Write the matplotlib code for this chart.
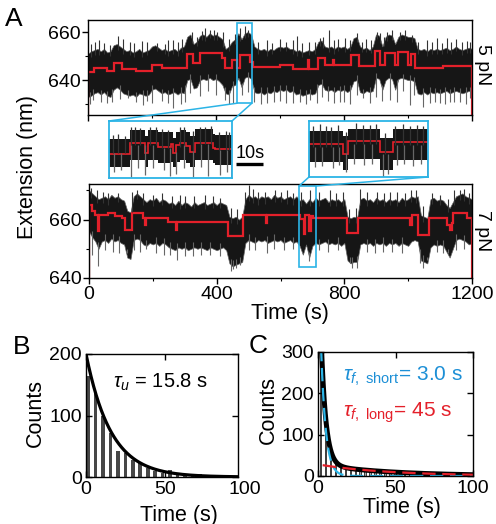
import numpy as np
import matplotlib.pyplot as plt
from matplotlib.patches import Rectangle, ConnectionPatch
from matplotlib.ticker import MultipleLocator

plt.rcParams["font.family"] = ["Liberation Sans", "DejaVu Sans"]
plt.rcParams["mathtext.fontset"] = "custom"
plt.rcParams["mathtext.rm"] = "Liberation Sans"
plt.rcParams["mathtext.it"] = "Liberation Sans:italic"
plt.rcParams["axes.linewidth"] = 1.0

RED = "#e4202a"
CYAN = "#2bb4e6"
BLUE = "#1c8fd6"
BAND = "#161616"

# -------------------------------------------------
# panel A: raw traces (envelope every 10 s) + smoothed steps
sample_t = np.arange(0, 1201, 10)

# 5 pN trace
top_upper = [
    651, 652, 652.5, 653, 652, 653, 651.5, 652, 654.5, 655, 654, 653,
    652, 652.5, 651.5, 652, 653, 651.5, 652, 652.5, 654, 654.5, 653.5, 652.5,
    653, 652, 652.5, 653, 652, 653.5, 654, 658, 659, 655, 656, 658.5,
    659, 658, 659.5, 658.5, 659, 658, 657, 653, 654, 656, 657, 659.5,
    657, 659.5, 660, 659, 654, 653, 652.5, 653, 652, 653, 652.5, 653.5,
    654, 653.5, 654, 653, 653, 652, 652.5, 651.5, 652, 652.5, 652, 653,
    656, 656.5, 654, 653.5, 654, 653, 654, 653.5, 654, 653, 654, 657.5,
    658, 654, 653, 653.5, 652.5, 654, 659, 658.5, 654, 658, 659, 658.5,
    655, 658, 659, 658.5, 658, 658, 657.5, 653, 652.5, 653, 652, 653,
    652.5, 653, 652.5, 653, 653.5, 652.5, 653, 654, 653, 652.5, 653, 653.5,
    653]
top_lower = [
    633, 633.5, 634.5, 635, 634, 635, 633.5, 633, 636, 637, 636, 634.5,
    634, 633.5, 634, 633, 634.5, 634, 633.5, 634, 636, 636.5, 635.5, 634.5,
    635, 634, 634.5, 635, 634, 635, 634.5, 640, 640.5, 636.5, 637, 640,
    640.5, 640, 641, 640, 640.5, 639.5, 638, 634.5, 634, 637.5, 638, 641,
    637, 641, 641.5, 640.5, 635, 634.5, 635, 634, 635, 634.5, 635.5, 635,
    636, 635.5, 636, 635, 635.5, 634, 634.5, 633.5, 634, 634.5, 634, 634.5,
    638, 638.5, 636, 635.5, 636, 635, 636, 635.5, 636, 635, 636, 639.5,
    640, 635, 634.5, 635.5, 635, 635.5, 641, 640.5, 636, 640, 641, 640.5,
    636, 640.5, 641, 640.5, 640, 640, 639.5, 634.5, 634, 635, 634, 635,
    634.5, 635, 634.5, 635, 635.5, 634.5, 635, 635.5, 635, 634.5, 635, 635.5,
    635]
top_edges = [0, 20, 60, 80, 105, 150, 200, 230, 308, 329, 350, 418, 428, 449,
             466, 474, 505, 517, 600, 642, 686, 690, 718, 740, 765, 769, 822,
             846, 897, 912, 928, 959, 970, 1001, 1008, 1022, 1110, 1200]
top_red = [643.5, 645, 643.8, 647, 644.8, 644, 646.4, 645, 651, 647, 651.2,
           649, 645, 648.4, 645, 650.5, 647.5, 645.5, 646.4, 644.7, 648.5,
           644.7, 649.1, 646.4, 648.5, 646.4, 650.5, 645.7, 652, 646.4, 651.2,
           646.4, 651.5, 646.4, 651, 645.2, 645.8]
top_up_t = [8, 22, 35, 50, 70, 95, 110, 130, 145, 168, 185, 215, 240, 250, 265,
            280, 295, 324, 340, 355, 366, 381, 395, 402, 423, 440, 460, 475,
            490, 501, 530, 560, 575, 600, 620, 640, 652, 670, 690, 710, 725,
            735, 754, 770, 780, 803, 820, 840, 855, 870, 885, 902, 912, 925,
            933, 950, 975, 990, 1011, 1030, 1060, 1075, 1090, 1105, 1121, 1135,
            1150, 1170, 1183, 1195]
top_up_v = [655, 656, 656.5, 655.5, 654.5, 658.2, 657, 656, 655.5, 656.1, 656,
            655.4, 655, 656.5, 656.5, 656, 657, 660.2, 658, 660.5, 661.6, 660.9,
            661, 660.2, 660.2, 657, 659, 661.6, 662.3, 660.9, 656, 656.5, 655.5,
            657, 656, 656.5, 658.2, 655.5, 656, 656, 657.5, 658, 660.9, 656.5,
            657, 657.5, 656.5, 659.6, 656, 657, 656.5, 660.2, 659.6, 658, 660,
            661, 660.2, 661, 658.9, 656, 656.5, 656, 657.5, 655.5, 657.5, 656,
            657, 656, 656.1, 656]
top_dn_t = [5, 17, 40, 60, 74, 100, 126, 150, 173, 185, 200, 230, 250, 267,
            290, 303, 320, 350, 375, 400, 428, 440, 454, 480, 500, 520, 540,
            560, 580, 600, 620, 640, 662, 680, 694, 715, 730, 750, 770, 787,
            800, 820, 840, 860, 880, 900, 920, 944, 965, 985, 1006, 1020, 1048,
            1070, 1085, 1100, 1115, 1130, 1145, 1163, 1180, 1195]
top_dn_v = [630, 631.8, 631, 630.5, 631.1, 632, 632.5, 631, 629.7, 631.5, 630.5,
            631.5, 630.5, 628.3, 630, 631.1, 634.5, 633.2, 635.5, 634, 631.8,
            630, 630.4, 634, 635, 631, 630, 630.5, 631, 631.5, 630.5, 630.5,
            631.1, 630, 631.8, 630.4, 633, 631.5, 630.5, 631.1, 631, 630, 634,
            632.5, 630.5, 633, 631.5, 631.8, 631, 635.5, 629.7, 634, 629, 630.5,
            631, 630.4, 630, 631, 631, 631.1, 630, 632.5]

# 7 pN trace
bot_upper = [
    670, 669, 668, 667, 667.5, 668, 667, 668.5, 667.5, 668, 667, 666.5,
    663, 662.5, 668, 669, 668, 667, 666, 667, 666.5, 667.5, 666, 667,
    666.5, 665.5, 666, 665, 666.5, 665, 666, 665.5, 664.5, 666, 665, 665.5,
    666, 665, 665.5, 666, 665, 666, 665.5, 665, 661, 660.5, 661, 660,
    661, 667, 668.5, 667.5, 668, 667, 668, 667.5, 668, 667, 668.5, 667.5,
    668, 667, 667.5, 668, 667, 668, 666.5, 667, 665.5, 667, 666, 667.5,
    666.5, 667, 667.5, 666, 667, 666.5, 667, 666, 667, 661, 660.5, 661,
    660.5, 667, 667.5, 666.5, 667, 666, 667.5, 666.5, 667, 666, 667, 666.5,
    667, 666, 667.5, 666.5, 667, 668, 667.5, 668, 661.5, 661, 660.5, 667,
    667.5, 666.5, 667, 666.5, 665, 664, 666, 668, 668.5, 669, 668, 667.5,
    667]
bot_lower = [
    656, 654, 652.5, 650, 652.5, 653, 652, 653.5, 652.5, 653, 652, 651.5,
    647, 646.5, 653, 653.5, 653, 651.5, 651, 652, 651.5, 652, 651, 652,
    651.5, 650.5, 650, 649.5, 650.5, 650, 650.5, 649.5, 650, 650.5, 650, 650.5,
    650, 649.5, 650.5, 650, 649.5, 650, 650.5, 649.5, 645, 644, 644.5, 645,
    645.5, 652, 653, 652.5, 652, 653, 652.5, 653, 652, 652.5, 653, 652.5,
    653, 652, 652.5, 653, 652, 652.5, 651, 648, 651.5, 647, 651, 652,
    651.5, 652, 652.5, 651.5, 652, 651.5, 652, 651, 652, 646, 645, 645.5,
    645.5, 651.5, 652, 651.5, 652, 651, 652, 651.5, 652, 651, 652, 651.5,
    652, 651, 652, 651.5, 651, 652.5, 653, 652.5, 646, 645.5, 645, 650.5,
    651.5, 651, 651.5, 651, 649, 647, 650, 653, 653.5, 653, 652.5, 651.5,
    652]
bot_edges = [0, 8, 19, 28, 32, 60, 80, 102, 113, 134, 170, 174, 178, 249, 272,
             276, 322, 437, 484, 555, 559, 661, 673, 676, 690, 695, 703, 808,
             844, 1006, 1011, 1032, 1064, 1121, 1130, 1137, 1142, 1184, 1200]
bot_red = [665, 663, 661.6, 656, 661.6, 662.2, 661.4, 660.5, 656.5, 662.2,
           660.5, 658, 660.5, 659.2, 656.5, 659.2, 659.3, 654.3, 661.6, 659,
           661.6, 660.3, 655, 661.6, 656, 661.3, 660.6, 655.4, 660.5, 658,
           661.6, 654.8, 660.5, 658, 656.5, 659, 662.2, 660.5]
bot_up_t = [5, 24, 45, 60, 90, 134, 150, 170, 200, 230, 260, 285, 300, 330,
            365, 390, 410, 445, 465, 490, 500, 515, 531, 550, 583, 600, 620,
            640, 665, 693, 720, 755, 775, 795, 815, 835, 850, 870, 902, 925,
            943, 965, 990, 1010, 1025, 1045, 1075, 1100, 1125, 1145, 1163,
            1175, 1190]
bot_up_v = [671, 670, 669.5, 669, 669, 669.5, 670, 669, 668.5, 669, 668, 668.5,
            668, 668, 668.5, 668, 667.5, 664, 663.5, 669.5, 671.8, 670.5,
            669.5, 669.5, 670, 669.5, 670, 669, 669.5, 670, 669.5, 670, 669,
            669.5, 663.5, 664, 670.6, 669.5, 669.5, 669, 669.5, 669.5, 669,
            670, 670, 664.5, 669, 668.5, 667, 670, 670, 670.5, 669]
bot_dn_t = [10, 29, 50, 75, 95, 118, 140, 160, 180, 210, 235, 255, 275, 300,
            325, 350, 380, 410, 445, 452, 462, 473, 500, 520, 557, 580, 610,
            640, 690, 720, 750, 780, 818, 825, 839, 870, 895, 920, 950, 980,
            1037, 1045, 1058, 1090, 1110, 1126, 1150, 1175]
bot_dn_v = [648, 644, 649.5, 649, 648.5, 648.5, 649.5, 649, 650, 648.5, 648,
            648, 646, 647.5, 647.5, 648, 648, 647.5, 642.5, 643, 643.5, 644.5,
            649.5, 649.5, 648.5, 650, 649.5, 650, 645.8, 649.5, 649, 649.5, 645,
            643.5, 643.5, 649, 648.5, 649, 649, 648.5, 645, 643.5, 646, 649,
            648.5, 648.5, 649.5, 650]

# zoom windows (s, nm)
win1_t = [466, 512]
win1_y = [630.4, 663.7]
win2_t = [658, 711]
win2_y = [643.7, 671.5]

# left inset (5 pN, 466-512 s)
in1_edges = [466, 473.7, 479.3, 480.6, 484.3, 489.3, 490, 491.2, 492.4, 494.9,
             496.2, 498, 504.9, 505.5, 512]
in1_red = [644.5, 650.7, 645, 650.7, 648.5, 650, 645, 649.5, 650.7, 649, 645.5,
           651, 648, 647.5]
in1_upper = [653, 658.5, 655, 658.5, 657, 657, 654, 657, 658.5, 657, 655, 659,
             656, 655.5]
in1_lower = [637, 641, 637, 641, 639, 640, 637, 640, 641, 639, 637, 641, 639,
             638]
in1_up_t = [467.5, 469.5, 472, 474.4, 475.6, 477.5, 481.5, 483.7, 486, 488,
            492.4, 494, 497.5, 499.9, 502, 504, 507, 509.9, 511]
in1_up_v = [655.5, 656, 655, 660, 660.4, 659.5, 660, 660.4, 659, 658.5, 660.4,
            660, 658, 660.4, 660, 660.5, 657.5, 658, 657]
in1_dn_t = [468, 470.5, 474.4, 477, 479.3, 482.5, 486.5, 488.7, 491, 494,
            497.4, 500.5, 503, 507.4, 510]
in1_dn_v = [634, 635, 631.2, 636, 632, 636.5, 635, 631.5, 633, 636, 631.2, 637,
            631.5, 632, 634]

# right inset (7 pN, 658-711 s)
in2_edges = [658, 673.1, 675.4, 689.5, 695.4, 711]
in2_red = [660.3, 655, 661.6, 656, 661.3]
in2_upper = [666.5, 664, 667.5, 663, 667.5]
in2_lower = [651, 647, 652.5, 647, 652]
in2_up_t = [660, 662.8, 665.5, 668, 671, 674.5, 679, 682, 685, 688, 692,
            696.5, 699.9, 703, 706, 708.8]
in2_up_v = [669, 670, 669, 668.5, 669.5, 666, 670.5, 669.5, 669.5, 670, 665.5,
            669, 670, 669, 669.5, 669]
in2_dn_t = [660.5, 664, 668.7, 671.5, 674.6, 678, 682.5, 686, 691, 693.2, 697,
            700.5, 704.3, 708]
in2_dn_v = [648.5, 649, 648, 649.5, 646.3, 650, 649.5, 650, 643.5, 645, 649.5,
            650, 649, 650]

# -------------------------------------------------
# panel B: unfolded dwell times
b_time = [1.4, 6.1, 10.8, 15.5, 20.2, 24.9, 29.6, 34.3, 39.0, 43.7, 48.4, 53.1,
          57.8, 62.5, 67.2, 71.9, 76.6, 81.3, 86.0]
b_counts = [165, 138, 100, 72, 43, 39, 27, 22, 15, 9, 7, 11, 4, 3, 2, 5, 3, 2, 1]
b_amp, tau_u = 200, 15.8

# panel C: folded dwell times
c_time = [1.6, 4.8, 8.0, 11.2, 14.4, 17.6, 20.8, 24.0, 27.2, 30.4, 33.6, 36.8,
          40.0, 43.2, 46.4, 49.6, 52.8, 56.0, 59.2, 62.4, 65.6, 68.8, 72.0,
          75.2, 78.4, 81.6, 84.8, 88.0]
c_counts = [300, 150, 62, 35, 24, 21, 19, 17, 15, 14, 13, 12, 11, 10, 9, 9, 8,
            7, 7, 6, 6, 5, 5, 4, 4, 3, 3, 3]
c_amp_short, tau_short = 600, 3.0
c_amp_long, tau_long = 28, 45


# -------------------------------------------------
W, H = 496, 524


def px_box(x0, y0, x1, y1):
    return [x0 / W, 1 - y1 / H, (x1 - x0) / W, (y1 - y0) / H]


def px(x, y):
    return x / W, 1 - y / H


def draw_trace(ax, upper, lower, edges, red, up_t, up_v, dn_t, dn_v):
    ax.fill_between(sample_t, lower, upper, color=BAND, lw=0.5, edgecolor="0.4")
    ax.vlines(up_t, np.interp(up_t, sample_t, upper) - 2, up_v, color="0.2", lw=0.8)
    ax.vlines(dn_t, dn_v, np.interp(dn_t, sample_t, lower) + 2, color="0.4", lw=0.8)
    ax.stairs(red, edges, color=RED, lw=1.6)


def draw_inset(ax, edges, red, upper, lower, up_t, up_v, dn_t, dn_v, xr, yr):
    ax.stairs(upper, edges, baseline=lower, fill=True, color=BAND)
    mid = [(a + b) / 2 for a, b in zip(upper, lower)]
    base = np.array(mid)[np.searchsorted(edges, up_t) - 1]
    ax.vlines(up_t, base, up_v, color="0.2", lw=0.9)
    base = np.array(mid)[np.searchsorted(edges, dn_t) - 1]
    ax.vlines(dn_t, dn_v, base, color="0.4", lw=0.9)
    ax.stairs(red, edges, color=RED, lw=1.2)
    ax.set_xlim(xr)
    ax.set_ylim(yr)
    ax.set_xticks([])
    ax.set_yticks([])
    for s in ax.spines.values():
        s.set_color(CYAN)
        s.set_linewidth(1.3)


fig = plt.figure(figsize=(W / 100, H / 100), dpi=100)

ax_top = fig.add_axes(px_box(88, 20, 472, 115))
ax_bot = fig.add_axes(px_box(89, 184, 472, 278))
ax_in1 = fig.add_axes(px_box(109, 121, 232, 178))
ax_in2 = fig.add_axes(px_box(309, 121, 428, 177))
ax_b = fig.add_axes(px_box(86, 354, 238, 477))
ax_c = fig.add_axes(px_box(318, 352, 473, 476))

draw_trace(ax_top, top_upper, top_lower, top_edges, top_red,
           top_up_t, top_up_v, top_dn_t, top_dn_v)
draw_trace(ax_bot, bot_upper, bot_lower, bot_edges, bot_red,
           bot_up_t, bot_up_v, bot_dn_t, bot_dn_v)

for ax in (ax_top, ax_bot):
    ax.set_xlim(0, 1200)
    ax.set_xticks([0, 400, 800, 1200])
    ax.xaxis.set_minor_locator(MultipleLocator(200))
    ax.yaxis.set_minor_locator(MultipleLocator(10))
    ax.set_yticks([640, 660])
    ax.tick_params(which="major", direction="out", length=4, width=1,
                   labelsize=14, pad=1.5)
    ax.tick_params(which="minor", direction="out", length=2.5, width=0.8)

ax_top.set_ylim(625.5, 665)
ax_top.tick_params(labelbottom=False)
ax_bot.set_ylim(640, 672.2)

ax_top.text(1.028, 0.53, "5 pN", rotation=-90, transform=ax_top.transAxes,
            ha="center", va="center", fontsize=14)
ax_bot.text(1.028, 0.5, "7 pN", rotation=-90, transform=ax_bot.transAxes,
            ha="center", va="center", fontsize=14)

# zoom boxes + connectors
ax_top.add_patch(Rectangle((win1_t[0], win1_y[0]), win1_t[1] - win1_t[0],
                           win1_y[1] - win1_y[0], fill=False, ec=CYAN, lw=1.2))
ax_bot.add_patch(Rectangle((win2_t[0], win2_y[0]), win2_t[1] - win2_t[0],
                           win2_y[1] - win2_y[0], fill=False, ec=CYAN, lw=1.2))

draw_inset(ax_in1, in1_edges, in1_red, in1_upper, in1_lower,
           in1_up_t, in1_up_v, in1_dn_t, in1_dn_v, win1_t, win1_y)
draw_inset(ax_in2, in2_edges, in2_red, in2_upper, in2_lower,
           in2_up_t, in2_up_v, in2_dn_t, in2_dn_v, win2_t, win2_y)

for xa, xb in ((win1_t[0], 0), (win1_t[1], 1)):
    fig.add_artist(ConnectionPatch((xa, win1_y[0]), (xb, 1), coordsA=ax_top.transData,
                                   coordsB=ax_in1.transAxes, color=CYAN, lw=1.1))
for xa, xb in ((win2_t[0], 0), (win2_t[1], 1)):
    fig.add_artist(ConnectionPatch((xa, win2_y[1]), (xb, 0), coordsA=ax_bot.transData,
                                   coordsB=ax_in2.transAxes, color=CYAN, lw=1.1))

# 10 s scale bar next to left inset
ax_in1.plot([513.5, 523.5], [638.6, 638.6], color="k", lw=2.4,
            solid_capstyle="butt", clip_on=False)
ax_in1.text(518.8, 644.5, "10s", ha="center", va="center", fontsize=13,
            clip_on=False)

fig.text(*px(27, 167), "Extension (nm)", rotation=90, ha="center", va="center",
         fontsize=15.5)
fig.text(*px(290, 313), "Time (s)", ha="center", va="center", fontsize=15.5)

# -------------------------------------------------
# B
t_fit = np.linspace(0, 96, 300)
ax_b.bar(b_time, b_counts, width=2.3, color="#474747", lw=0)
ax_b.plot(t_fit, b_amp * np.exp(-t_fit / tau_u), color="k", lw=2.3)
ax_b.set_xlim(0, 96)
ax_b.set_ylim(0, 200)
ax_b.set_xticks([0, 50])
ax_b.set_yticks([0, 100, 200])
ax_b.text(100, -0.03, "100", transform=ax_b.get_xaxis_transform(),
          ha="center", va="top", fontsize=14, clip_on=False)
ax_b.text(0.18, 0.77, r"$\tau_u$ = 15.8 s", transform=ax_b.transAxes,
          fontsize=14.5, ha="left", va="center")
fig.text(*px(35, 413), "Counts", rotation=90, ha="center", va="center",
         fontsize=15.5)
fig.text(*px(179, 515), "Time (s)", ha="center", va="center", fontsize=15.5)

# C
t_fit = np.linspace(0, 100, 600)
t_long = np.linspace(3, 100, 300)
ax_c.bar(c_time, c_counts, width=0.9, color="0.65", ec="0.15", lw=0.6)
ax_c.plot(t_fit, c_amp_short * np.exp(-t_fit / tau_short)
          + c_amp_long * np.exp(-t_fit / tau_long), color="k", lw=3.6)
ax_c.plot(t_fit, c_amp_short * np.exp(-t_fit / tau_short), color=CYAN, lw=1.6,
          dashes=(6, 3))
ax_c.plot(t_long, c_amp_long * np.exp(-t_long / tau_long), color=RED, lw=1.6,
          dashes=(6, 3))
ax_c.set_xlim(0, 100)
ax_c.set_ylim(0, 300)
ax_c.set_xticks([0, 50, 100])
ax_c.set_yticks([0, 100, 200, 300])
ax_c.text(0.16, 0.8, r"$\tau_{f,\ \mathrm{short}}$= 3.0 s", transform=ax_c.transAxes,
          fontsize=15, color=BLUE, ha="left", va="center")
ax_c.text(0.16, 0.51, r"$\tau_{f,\ \mathrm{long}}$= 45 s", transform=ax_c.transAxes,
          fontsize=15, color=RED, ha="left", va="center")
fig.text(*px(268, 410), "Counts", rotation=90, ha="center", va="center",
         fontsize=15.5)
fig.text(*px(402, 508), "Time (s)", ha="center", va="center", fontsize=15.5)

for ax in (ax_b, ax_c):
    ax.tick_params(direction="in", top=True, right=True, length=4, width=1,
                   labelsize=14, pad=3)

# panel letters
fig.text(*px(14, 19), "A", ha="center", va="center", fontsize=19)
fig.text(*px(22, 347), "B", ha="center", va="center", fontsize=19)
fig.text(*px(258, 346), "C", ha="center", va="center", fontsize=19)

fig.savefig("out.png", dpi=100)
plt.close(fig)
